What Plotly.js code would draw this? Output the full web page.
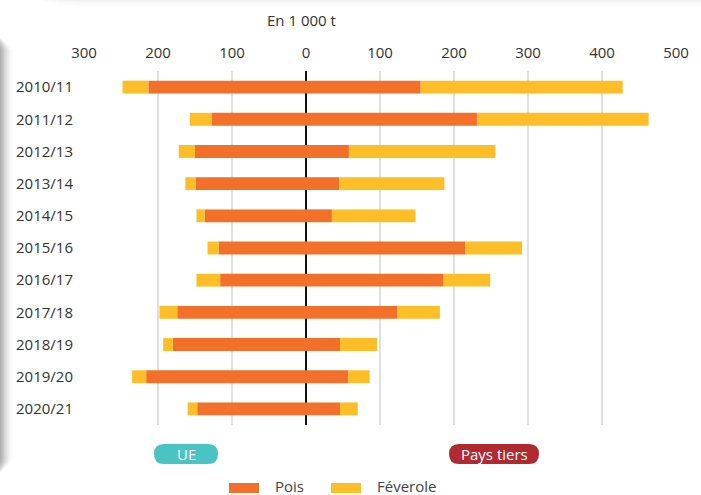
<!DOCTYPE html>
<html>
<head>
<meta charset="utf-8">
<script src="https://cdn.plot.ly/plotly-3.0.1.min.js"></script>
<style>html,body{margin:0;padding:0;background:#fff;}#chart{width:701px;height:495px;}</style>
</head>
<body>
<div id="chart"></div>
<script>
// Data (en 1 000 t)
const years = ['2010/11','2011/12','2012/13','2013/14','2014/15','2015/16','2016/17','2017/18','2018/19','2019/20','2020/21'];
const uePois = [213,127,150,149,137,118,116,174,180,216,147];
const ueFeverole = [35,30,22,14,11,15,32,24,13,19,13];
const ptPois = [155,231,58,45,35,215,186,123,46,57,46];
const ptFeverole = [273,232,198,142,113,77,63,58,50,29,24];
const tickVals = [-300,-200,-100,0,100,200,300,400,500];
const tickText = ['300','200','100','0','100','200','300','400','500'];

const cPois = '#F3702B';
const cFev = '#FDBE28';
const W = 701, H = 495, ML = 84, MR = 25, MT = 71, MB = 70;
const PW = W - ML - MR, PH = H - MT - MB;
const px = x => (x - ML) / PW;
const py = y => (H - MB - y) / PH;

function pill(x0, y0, x1, y1, r, color) {
  const rx = r / PW, ry = r / PH;
  const X0 = px(x0), X1 = px(x1), Ytop = py(y0), Ybot = py(y1);
  const path = `M ${X0+rx},${Ytop} L ${X1-rx},${Ytop} Q ${X1},${Ytop} ${X1},${Ytop-ry} L ${X1},${Ybot+ry} Q ${X1},${Ybot} ${X1-rx},${Ybot} L ${X0+rx},${Ybot} Q ${X0},${Ybot} ${X0},${Ybot+ry} L ${X0},${Ytop-ry} Q ${X0},${Ytop} ${X0+rx},${Ytop} Z`;
  return {type:'path', xref:'paper', yref:'paper', path, fillcolor:color, line:{width:0}};
}

const neg = a => a.map(v => -v);
const traces = [
  {type:'bar', orientation:'h', y:years, x:neg(uePois), marker:{color:cPois}, name:'Pois', showlegend:false, hoverinfo:'skip'},
  {type:'bar', orientation:'h', y:years, x:neg(ueFeverole), marker:{color:cFev}, name:'Féverole', showlegend:false, hoverinfo:'skip'},
  {type:'bar', orientation:'h', y:years, x:ptPois, marker:{color:cPois}, name:'Pois', showlegend:false, hoverinfo:'skip'},
  {type:'bar', orientation:'h', y:years, x:ptFeverole, marker:{color:cFev}, name:'Féverole', showlegend:false, hoverinfo:'skip'}
];

const shapes = [];
// soft card shadows (decoration)
for (let i = 0; i < 14; i++) {
  const a = 0.045 * (1 - i / 14);
  shapes.push({type:'rect', xref:'paper', yref:'paper', x0:px(0), x1:px(i + 1), y0:py(472 - i), y1:py(38 + i), fillcolor:`rgba(0,0,0,${a.toFixed(4)})`, line:{width:0}, layer:'below'});
}
for (let i = 0; i < 8; i++) {
  const a = 0.012 * (1 - i / 8);
  shapes.push({type:'rect', xref:'paper', yref:'paper', x0:px(40 + i * 6), x1:px(701), y0:py(i + 1), y1:py(0), fillcolor:`rgba(0,0,0,${a.toFixed(4)})`, line:{width:0}, layer:'below'});
}
shapes.push(
  pill(154, 444, 218, 464, 10, '#4AC3C5'),
  pill(449, 444, 539, 464, 10, '#B22A31'),
  {type:'rect', xref:'paper', yref:'paper', x0:px(229), x1:px(259), y0:py(493), y1:py(483), fillcolor:cPois, line:{width:0}},
  {type:'rect', xref:'paper', yref:'paper', x0:px(331), x1:px(361), y0:py(493), y1:py(483), fillcolor:cFev, line:{width:0}}
);

const font = '"Open Sans", sans-serif';
const annotations = [
  {xref:'paper', yref:'paper', x:px(301), y:py(20), text:'En 1 000 t', showarrow:false, font:{size:15, color:'#333', family:font}, xanchor:'center', yanchor:'middle'},
  {xref:'paper', yref:'paper', x:px(186), y:py(454), text:'UE', showarrow:false, font:{size:15, color:'#fff', family:font}, xanchor:'center', yanchor:'middle'},
  {xref:'paper', yref:'paper', x:px(494), y:py(454), text:'Pays tiers', showarrow:false, font:{size:15, color:'#fff', family:font}, xanchor:'center', yanchor:'middle'},
  {xref:'paper', yref:'paper', x:px(274), y:py(486), text:'Pois', showarrow:false, borderpad:0, font:{size:15, color:'#444', family:font}, xanchor:'left', yanchor:'middle'},
  {xref:'paper', yref:'paper', x:px(376), y:py(486), text:'Féverole', showarrow:false, borderpad:0, font:{size:15, color:'#444', family:font}, xanchor:'left', yanchor:'middle'}
];

const layout = {
  width:W, height:H, autosize:false,
  margin:{l:ML, r:MR, t:MT, b:MB, pad:0},
  paper_bgcolor:'#fff', plot_bgcolor:'#fff',
  barmode:'relative', bargap:0.6,
  showlegend:false,
  font:{family:font, color:'#333', size:14},
  xaxis:{
    side:'top', range:[-300,500], tickvals:tickVals, ticktext:tickText,
    showgrid:true, gridcolor:'#e0e0e0', gridwidth:1.5,
    zeroline:true, zerolinecolor:'#111', zerolinewidth:2,
    showline:false, ticks:'outside', ticklen:6, tickcolor:'rgba(0,0,0,0)',
    tickfont:{size:15, color:'#333', family:font}, fixedrange:true
  },
  yaxis:{
    type:'category', categoryarray:years, autorange:'reversed',
    showgrid:false, zeroline:false, showline:false,
    ticks:'outside', ticklen:7, tickcolor:'rgba(0,0,0,0)',
    tickfont:{size:15, color:'#333', family:font}, fixedrange:true
  },
  shapes, annotations
};

Plotly.newPlot('chart', traces, layout, {displayModeBar:false, staticPlot:true});
</script>
</body>
</html>
